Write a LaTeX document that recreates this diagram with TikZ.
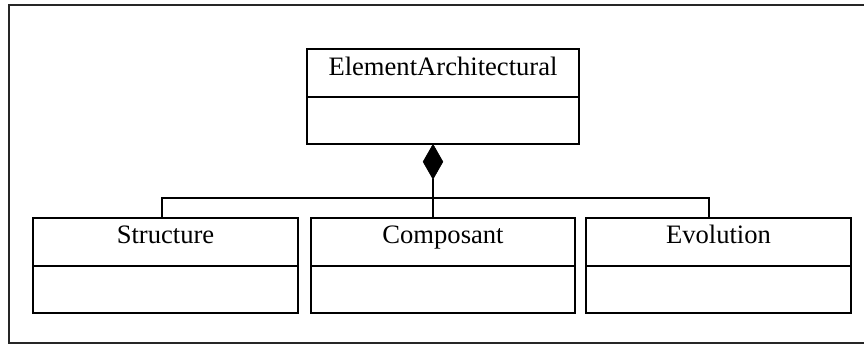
\documentclass[tikz,border=0pt]{standalone}
\usepackage{fontspec}
\setmainfont{Liberation Serif}
\usetikzlibrary{shapes.geometric}

\tikzset{
  classbox/.style={draw=black, line width=1.5pt, minimum width=265pt, minimum height=95pt, inner sep=0pt},
  classname/.style={anchor=base, inner sep=0pt, font=\fontsize{26.6}{30}\selectfont},
  divider/.style={line width=1.5pt},
  link/.style={line width=1.5pt},
  compdiamond/.style={diamond, fill=black, draw=black, line width=0.5pt, inner sep=0pt, aspect=0.57, minimum width=20pt, minimum height=35pt},
  frameline/.style={line width=2pt, draw=black!85}
}

\begin{document}
\begin{tikzpicture}[x=1pt, y=-1pt]
  \useasboundingbox (0,0) rectangle (864,344);

  % surrounding frame (open on the right)
  \draw[frameline] (864,5) -- (9,5) -- (9,343) -- (864,343);

  % parent class
  \node[classbox, minimum width=272pt, minimum height=95pt] (ea) at (443,96.5) {};
  \draw[divider] (ea.west |- 0,97) -- (ea.east |- 0,97);
  \node[classname] (eat) at (443,76) {ElementArchitectural};

  % child classes
  \node[classbox] (st) at (165.5,265.5) {};
  \draw[divider] (st.west |- 0,266) -- (st.east |- 0,266);
  \node[classname] (stt) at (165.5,244) {Structure};

  \node[classbox, minimum width=264pt] (co) at (443,265.5) {};
  \draw[divider] (co.west |- 0,266) -- (co.east |- 0,266);
  \node[classname] (cot) at (443,244) {Composant};

  \node[classbox] (ev) at (718.5,265.5) {};
  \draw[divider] (ev.west |- 0,266) -- (ev.east |- 0,266);
  \node[classname] (evt) at (718.5,244) {Evolution};

  % composition diamond and its tree
  \node[compdiamond, anchor=north] (dia) at (433,144) {};
  \coordinate (jl) at (162,198);
  \coordinate (jr) at (709,198);
  \draw[link, line width=2pt] (dia.south) -- (dia.south |- co.north);
  \draw[link] (st.north -| jl) -- (jl) -- (jr) -- (ev.north -| jr);
\end{tikzpicture}
\end{document}
